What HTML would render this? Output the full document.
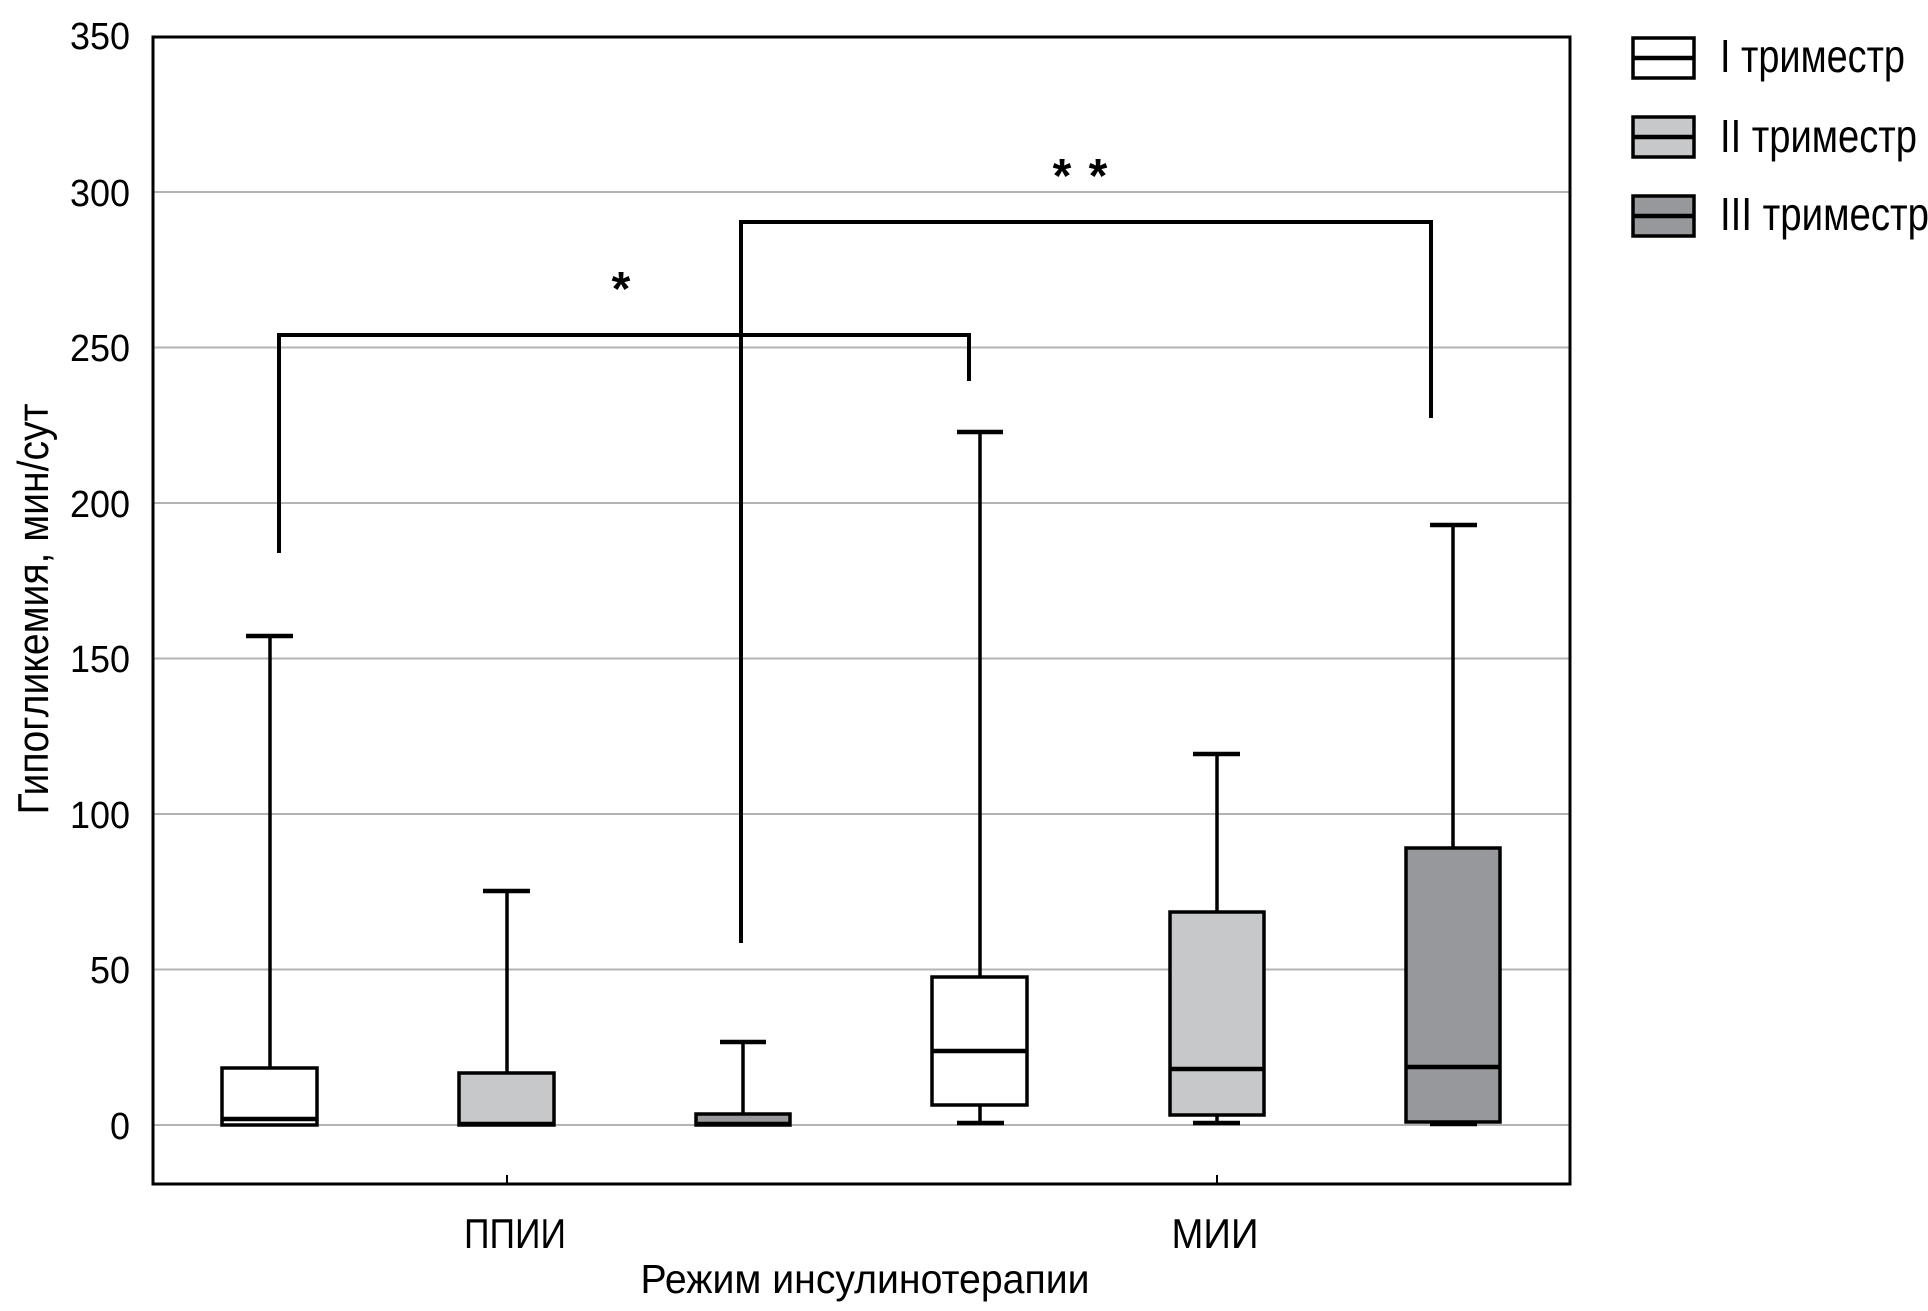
<!DOCTYPE html>
<html>
<head>
<meta charset="utf-8">
<style>
  html, body { margin: 0; padding: 0; background: #ffffff; }
  body { width: 1928px; height: 1311px; overflow: hidden; }
  svg { display: block; }
  text { font-family: "Liberation Sans", "DejaVu Sans", sans-serif; fill: #000; }
</style>
</head>
<body>
<svg width="1928" height="1311" viewBox="0 0 1928 1311" xmlns="http://www.w3.org/2000/svg">
  <rect x="0" y="0" width="1928" height="1311" fill="#ffffff"/>

  <!-- gridlines -->
  <g stroke="#b4b4b4" stroke-width="2">
    <line x1="153" y1="192" x2="1570" y2="192"/>
    <line x1="153" y1="347.5" x2="1570" y2="347.5"/>
    <line x1="153" y1="503" x2="1570" y2="503"/>
    <line x1="153" y1="658.5" x2="1570" y2="658.5"/>
    <line x1="153" y1="814" x2="1570" y2="814"/>
    <line x1="153" y1="969.5" x2="1570" y2="969.5"/>
    <line x1="153" y1="1125" x2="1570" y2="1125"/>
  </g>

  <!-- plot frame -->
  <rect x="153" y="37" width="1417" height="1147" fill="none" stroke="#000" stroke-width="3"/>

  <!-- x ticks -->
  <g stroke="#000" stroke-width="2">
    <line x1="507" y1="1175" x2="507" y2="1184"/>
    <line x1="1217" y1="1175" x2="1217" y2="1184"/>
  </g>

  <!-- y tick labels -->
  <g font-size="38" text-anchor="end">
    <text x="130" y="49" textLength="60" lengthAdjust="spacingAndGlyphs">350</text>
    <text x="130" y="206" textLength="60" lengthAdjust="spacingAndGlyphs">300</text>
    <text x="130" y="361" textLength="60" lengthAdjust="spacingAndGlyphs">250</text>
    <text x="130" y="517" textLength="60" lengthAdjust="spacingAndGlyphs">200</text>
    <text x="130" y="672" textLength="60" lengthAdjust="spacingAndGlyphs">150</text>
    <text x="130" y="828" textLength="60" lengthAdjust="spacingAndGlyphs">100</text>
    <text x="130" y="983" textLength="40" lengthAdjust="spacingAndGlyphs">50</text>
    <text x="130" y="1139" textLength="20" lengthAdjust="spacingAndGlyphs">0</text>
  </g>

  <!-- y axis title -->
  <text font-size="44" text-anchor="middle" transform="translate(48,609) rotate(-90)" textLength="411" lengthAdjust="spacingAndGlyphs">Гипогликемия, мин/сут</text>

  <!-- x labels -->
  <text x="515" y="1248" font-size="42" text-anchor="middle" textLength="102" lengthAdjust="spacingAndGlyphs">ППИИ</text>
  <text x="1215" y="1248" font-size="42" text-anchor="middle" textLength="87" lengthAdjust="spacingAndGlyphs">МИИ</text>
  <text x="865" y="1293" font-size="41" text-anchor="middle" textLength="449" lengthAdjust="spacingAndGlyphs">Режим инсулинотерапии</text>

  <!-- whiskers -->
  <g stroke="#000" stroke-width="3.5" fill="none">
    <line x1="270" y1="1068" x2="270" y2="636"/>
    <line x1="507" y1="1073" x2="507" y2="891"/>
    <line x1="743" y1="1114" x2="743" y2="1042"/>
    <line x1="980" y1="977" x2="980" y2="432"/>
    <line x1="980" y1="1105" x2="980" y2="1123"/>
    <line x1="1217" y1="912" x2="1217" y2="754"/>
    <line x1="1217" y1="1115" x2="1217" y2="1123"/>
    <line x1="1453" y1="848" x2="1453" y2="525"/>
  </g>
  <!-- caps -->
  <g stroke="#000" stroke-width="4.5">
    <line x1="246" y1="636" x2="293" y2="636"/>
    <line x1="483" y1="891" x2="530" y2="891"/>
    <line x1="720" y1="1042" x2="766" y2="1042"/>
    <line x1="957" y1="432" x2="1003" y2="432"/>
    <line x1="957" y1="1123" x2="1004" y2="1123"/>
    <line x1="1193" y1="754" x2="1240" y2="754"/>
    <line x1="1193" y1="1123" x2="1240" y2="1123"/>
    <line x1="1430" y1="525" x2="1477" y2="525"/>
    <line x1="1430" y1="1124" x2="1477" y2="1124"/>
  </g>

  <!-- boxes -->
  <g stroke="#000" stroke-width="3.5">
    <rect x="222" y="1068" width="95" height="57" fill="#ffffff"/>
    <rect x="459" y="1073" width="95" height="52" fill="#c7c8ca"/>
    <rect x="696" y="1114" width="94" height="11" fill="#97989b"/>
    <rect x="932" y="977" width="95" height="128" fill="#ffffff"/>
    <rect x="1170" y="912" width="94" height="203" fill="#c7c8ca"/>
    <rect x="1406" y="848" width="94" height="274" fill="#97989b"/>
  </g>
  <!-- medians -->
  <g stroke="#000" stroke-width="4.5">
    <line x1="222" y1="1119" x2="317" y2="1119"/>
    <line x1="459" y1="1124" x2="554" y2="1124"/>
    <line x1="696" y1="1124" x2="790" y2="1124"/>
    <line x1="932" y1="1051" x2="1027" y2="1051"/>
    <line x1="1170" y1="1069" x2="1264" y2="1069"/>
    <line x1="1406" y1="1067" x2="1500" y2="1067"/>
  </g>

  <!-- significance brackets -->
  <g stroke="#000" stroke-width="4" fill="none" stroke-linejoin="miter">
    <path d="M279 553 V335 H969 V381"/>
    <path d="M741 943 V222 H1431 V418"/>
  </g>
  <g font-size="48" font-weight="bold" text-anchor="middle">
    <text x="621" y="305">*</text>
    <text x="1062" y="192">*</text>
    <text x="1098" y="192">*</text>
  </g>

  <!-- legend -->
  <g stroke="#000" stroke-width="3.5">
    <rect x="1633" y="38" width="61" height="40" fill="#ffffff"/>
    <line x1="1633" y1="58" x2="1694" y2="58" stroke-width="4.5"/>
    <rect x="1633" y="117" width="61" height="40" fill="#c7c8ca"/>
    <line x1="1633" y1="137" x2="1694" y2="137" stroke-width="4.5"/>
    <rect x="1633" y="196" width="61" height="40" fill="#97989b"/>
    <line x1="1633" y1="216" x2="1694" y2="216" stroke-width="4.5"/>
  </g>
  <g font-size="46">
    <text x="1720" y="72" textLength="185" lengthAdjust="spacingAndGlyphs">I триместр</text>
    <text x="1720" y="152" textLength="197" lengthAdjust="spacingAndGlyphs">II триместр</text>
    <text x="1720" y="230" textLength="209" lengthAdjust="spacingAndGlyphs">III триместр</text>
  </g>
</svg>
</body>
</html>
